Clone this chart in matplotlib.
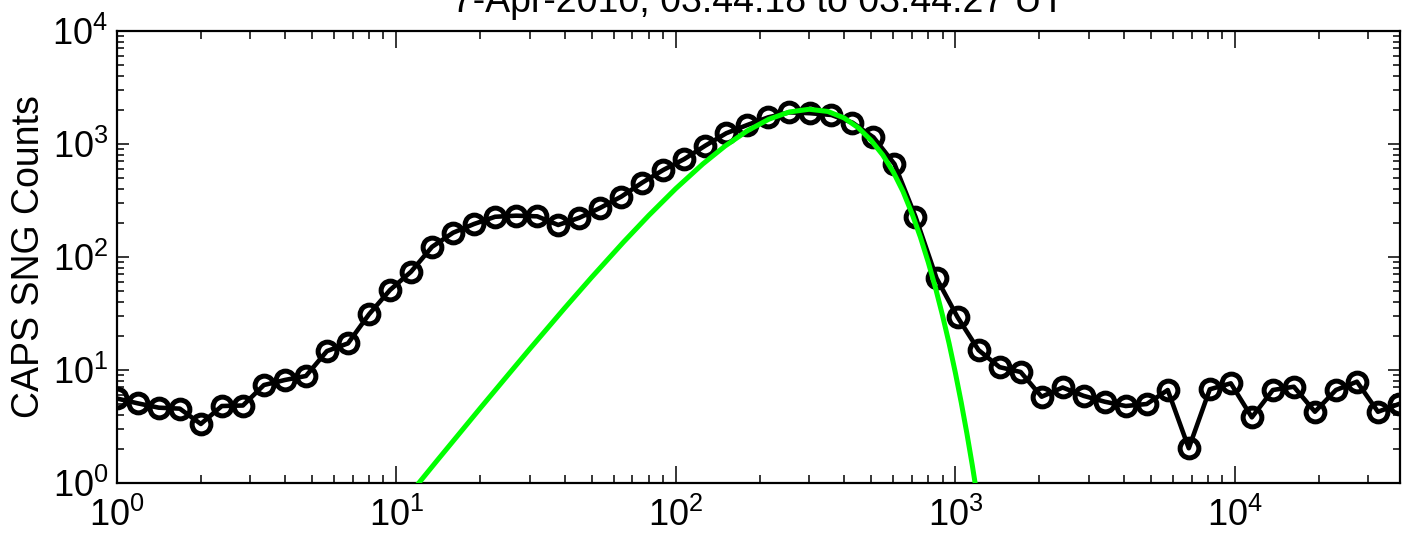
import math
import matplotlib
matplotlib.use("Agg")
import matplotlib.pyplot as plt
from matplotlib.ticker import LogLocator, FuncFormatter, NullFormatter

plt.rcParams['font.family'] = ['Liberation Sans', 'DejaVu Sans']
plt.rcParams['mathtext.fontset'] = 'custom'
plt.rcParams['mathtext.rm'] = 'Liberation Sans'
plt.rcParams['mathtext.it'] = 'Liberation Sans:italic'
plt.rcParams['mathtext.bf'] = 'Liberation Sans:bold'

title_text = "7-Apr-2010, 03:44:18 to 03:44:27 UT"
ylabel_text = "CAPS SNG Counts"

# energy bins (x)
energy = [1.000, 1.189, 1.414, 1.681, 1.999, 2.377, 2.827, 3.361, 3.997, 4.752,
          5.649, 6.719, 7.990, 9.497, 11.29, 13.43, 15.97, 18.99, 22.58, 26.84,
          31.92, 37.96, 45.12, 53.66, 63.80, 75.86, 90.21, 107.3, 127.5, 151.6,
          180.3, 214.4, 254.9, 303.1, 360.4, 428.5, 509.5, 605.9, 720.4, 856.6,
          1019, 1211, 1440, 1713, 2036, 2421, 2879, 3424, 4071, 4840,
          5754, 6843, 8137, 9674, 11505, 13677, 16264, 19338, 22997, 27346,
          32509, 38655]

# measured counts
counts = [5.6, 5.07, 4.64, 4.55, 3.33, 4.8, 4.85, 7.36, 8.16, 8.85,
          14.7, 17.2, 31.1, 51, 74, 123, 164, 196, 227, 232,
          229, 192, 222, 272, 342, 455, 589, 736, 966, 1245,
          1473, 1722, 1906, 1871, 1806, 1544, 1146, 665, 227, 65,
          29.3, 15.0, 10.6, 9.6, 5.8, 7.0, 5.9, 5.24, 4.8, 5.0,
          6.65, 2.03, 6.75, 7.62, 3.81, 6.65, 7.11, 4.27, 6.65, 7.88,
          4.27, 5.0]

# fitted curve (green)
fit_energy = [12, 14, 17, 20, 25, 30, 40, 50, 65, 80, 100, 125, 150, 180, 215,
              255, 300, 350, 400, 450, 500, 550, 600, 650, 700, 750, 800, 850,
              900, 950, 1000, 1050, 1100, 1150, 1200]
fit_counts = [0.99, 1.58, 2.83, 4.61, 8.93, 15.3, 35.2, 66.1, 135.4, 232.8, 403,
              666, 958, 1305, 1654, 1921, 2028, 1940, 1700, 1390, 1075, 800,
              565, 380, 242, 150, 90, 53, 30.4, 17.2, 9.5, 5.16, 2.75, 1.44, 0.74]

xlim = (1, 3.9e4)
ylim = (1, 1e4)

fig = plt.figure(figsize=(14.03, 5.35), dpi=100)
ax = fig.add_axes([0.0832, 0.0972, 0.9979 - 0.0832, 0.9421 - 0.0972])

ax.plot(energy, counts, color='black', lw=3.3, marker='o', markersize=13.5,
        markerfacecolor='none', markeredgecolor='black', markeredgewidth=3.6,
        zorder=2)
ax.plot(fit_energy, fit_counts, color=(0, 1, 0), lw=3.6, zorder=3)

ax.set_xscale('log')
ax.set_yscale('log')
ax.set_xlim(*xlim)
ax.set_ylim(*ylim)

fmt = FuncFormatter(lambda v, p: r'$\mathregular{10^{%d}}$' % round(math.log10(v)))
ax.xaxis.set_major_locator(LogLocator(base=10, numticks=20))
ax.yaxis.set_major_locator(LogLocator(base=10, numticks=20))
ax.xaxis.set_minor_locator(LogLocator(base=10, subs=range(2, 10), numticks=50))
ax.yaxis.set_minor_locator(LogLocator(base=10, subs=range(2, 10), numticks=50))
ax.xaxis.set_major_formatter(fmt)
ax.yaxis.set_major_formatter(fmt)
ax.xaxis.set_minor_formatter(NullFormatter())
ax.yaxis.set_minor_formatter(NullFormatter())

ax.tick_params(axis='both', which='both', direction='in', top=True, right=True,
               colors='black', labelsize=26)
ax.tick_params(axis='x', which='major', length=12, width=1.1, pad=11)
ax.tick_params(axis='x', which='minor', length=6, width=1.1)
ax.tick_params(axis='y', which='major', length=8.6, width=1.1, pad=6)
ax.tick_params(axis='y', which='minor', length=5, width=1.1)

for s in ax.spines.values():
    s.set_linewidth(1.6)
    s.set_color('black')

ax.set_ylabel(ylabel_text, fontsize=27)
ax.yaxis.set_label_coords(-0.054, 0.5)

fig.text(0.5405, 1 - 12 / 535, title_text, fontsize=27, ha='center', va='baseline')

fig.savefig('out.png', dpi=100)
